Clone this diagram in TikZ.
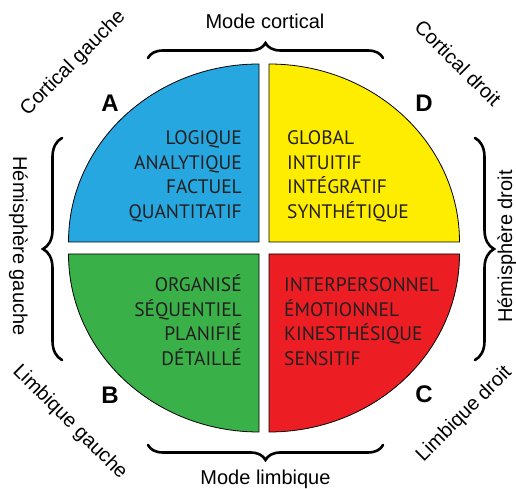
\documentclass[tikz,border=0pt]{standalone}
\usepackage{fontspec}
\setmainfont{Liberation Sans}
\newfontfamily\quadfont{PT Sans}
\usetikzlibrary{decorations.pathreplacing}
\definecolor{quadA}{RGB}{39,167,224}
\definecolor{quadD}{RGB}{255,237,0}
\definecolor{quadB}{RGB}{58,176,73}
\definecolor{quadC}{RGB}{236,30,36}
\definecolor{inktext}{RGB}{35,31,32}

\begin{document}
\begin{tikzpicture}[x=1pt,y=1pt]
\tikzstyle{quad}=[draw=black,line width=0.8pt]
\tikzstyle{word}=[inner sep=0pt,text height=13.5pt,text depth=0pt,text=inktext,font=\quadfont\fontsize{19.5}{22}\selectfont]
\tikzstyle{letter}=[inner sep=0pt,font=\bfseries\fontsize{24}{28}\selectfont]
\tikzstyle{sidetext}=[inner sep=0pt,text height=14pt,text depth=0pt,font=\fontsize{20}{24}\selectfont]
\tikzstyle{curly}=[decorate,decoration={brace,amplitude=19pt},line width=2.6pt,line cap=round]
\useasboundingbox (0,0) rectangle (516,489);
% quadrants
\foreach \name/\col/\dx/\dy/\ang in {A/quadA/-5/6/90, D/quadD/5/6/0, B/quadB/-5/-6/180, C/quadC/5/-6/270}
  \filldraw[quad,fill=\col] ({264+\dx},{241+\dy}) coordinate (o\name) -- +(\ang:190.5pt and 178pt)
    arc[start angle=\ang,delta angle=90,x radius=190.5pt,y radius=178pt] -- cycle;
% words
\foreach \txt [count=\i] in {LOGIQUE,ANALYTIQUE,FACTUEL,QUANTITATIF}
  \node[word,anchor=east] (a\i) at (242,{351-24.5*(\i-1)}) {\txt};
\foreach \txt [count=\i] in {GLOBAL,INTUITIF,INTÉGRATIF,SYNTHÉTIQUE}
  \node[word,anchor=west] (d\i) at (287,{351-24.5*(\i-1)}) {\txt};
\foreach \txt [count=\i] in {ORGANISÉ,SÉQUENTIEL,PLANIFIÉ,DÉTAILLÉ}
  \node[word,anchor=east] (b\i) at (242,{204-24.5*(\i-1)}) {\txt};
\foreach \txt [count=\i] in {INTERPERSONNEL,ÉMOTIONNEL,KINESTHÉSIQUE,SENSITIF}
  \node[word,anchor=west] (c\i) at (284,{204-24.5*(\i-1)}) {\txt};
% letters
\node[letter] (A) at (110,385.5) {A};
\node[letter] (D) at (424,386) {D};
\node[letter] (B) at (110,94) {B};
\node[letter] (C) at (424,95) {C};
% side labels
\node[sidetext] (top) at (265,467) {Mode cortical};
\node[sidetext] (bottom) at (265.5,11.5) {Mode limbique};
\node[sidetext,rotate=-90] (left) at (20,243) {Hémisphère gauche};
\node[sidetext,rotate=90] (right) at (505,242.5) {Hémisphère droit};
\node[sidetext,rotate=45] (cg) at (72,427) {Cortical gauche};
\node[sidetext,rotate=-45] (cd) at (458,426) {Cortical droit};
\node[sidetext,rotate=-45] (lg) at (71,68) {Limbique gauche};
\node[sidetext,rotate=45] (ld) at (463,76) {Limbique droit};
% braces
\draw[curly] (62,129) -- (62,351);
\draw[curly] (475,351) -- (475,129);
\draw[curly,decoration={amplitude=15pt}] (148,431) -- (383,431);
\draw[curly,decoration={amplitude=15pt}] (383,44) -- (148,44);
\end{tikzpicture}
\end{document}
